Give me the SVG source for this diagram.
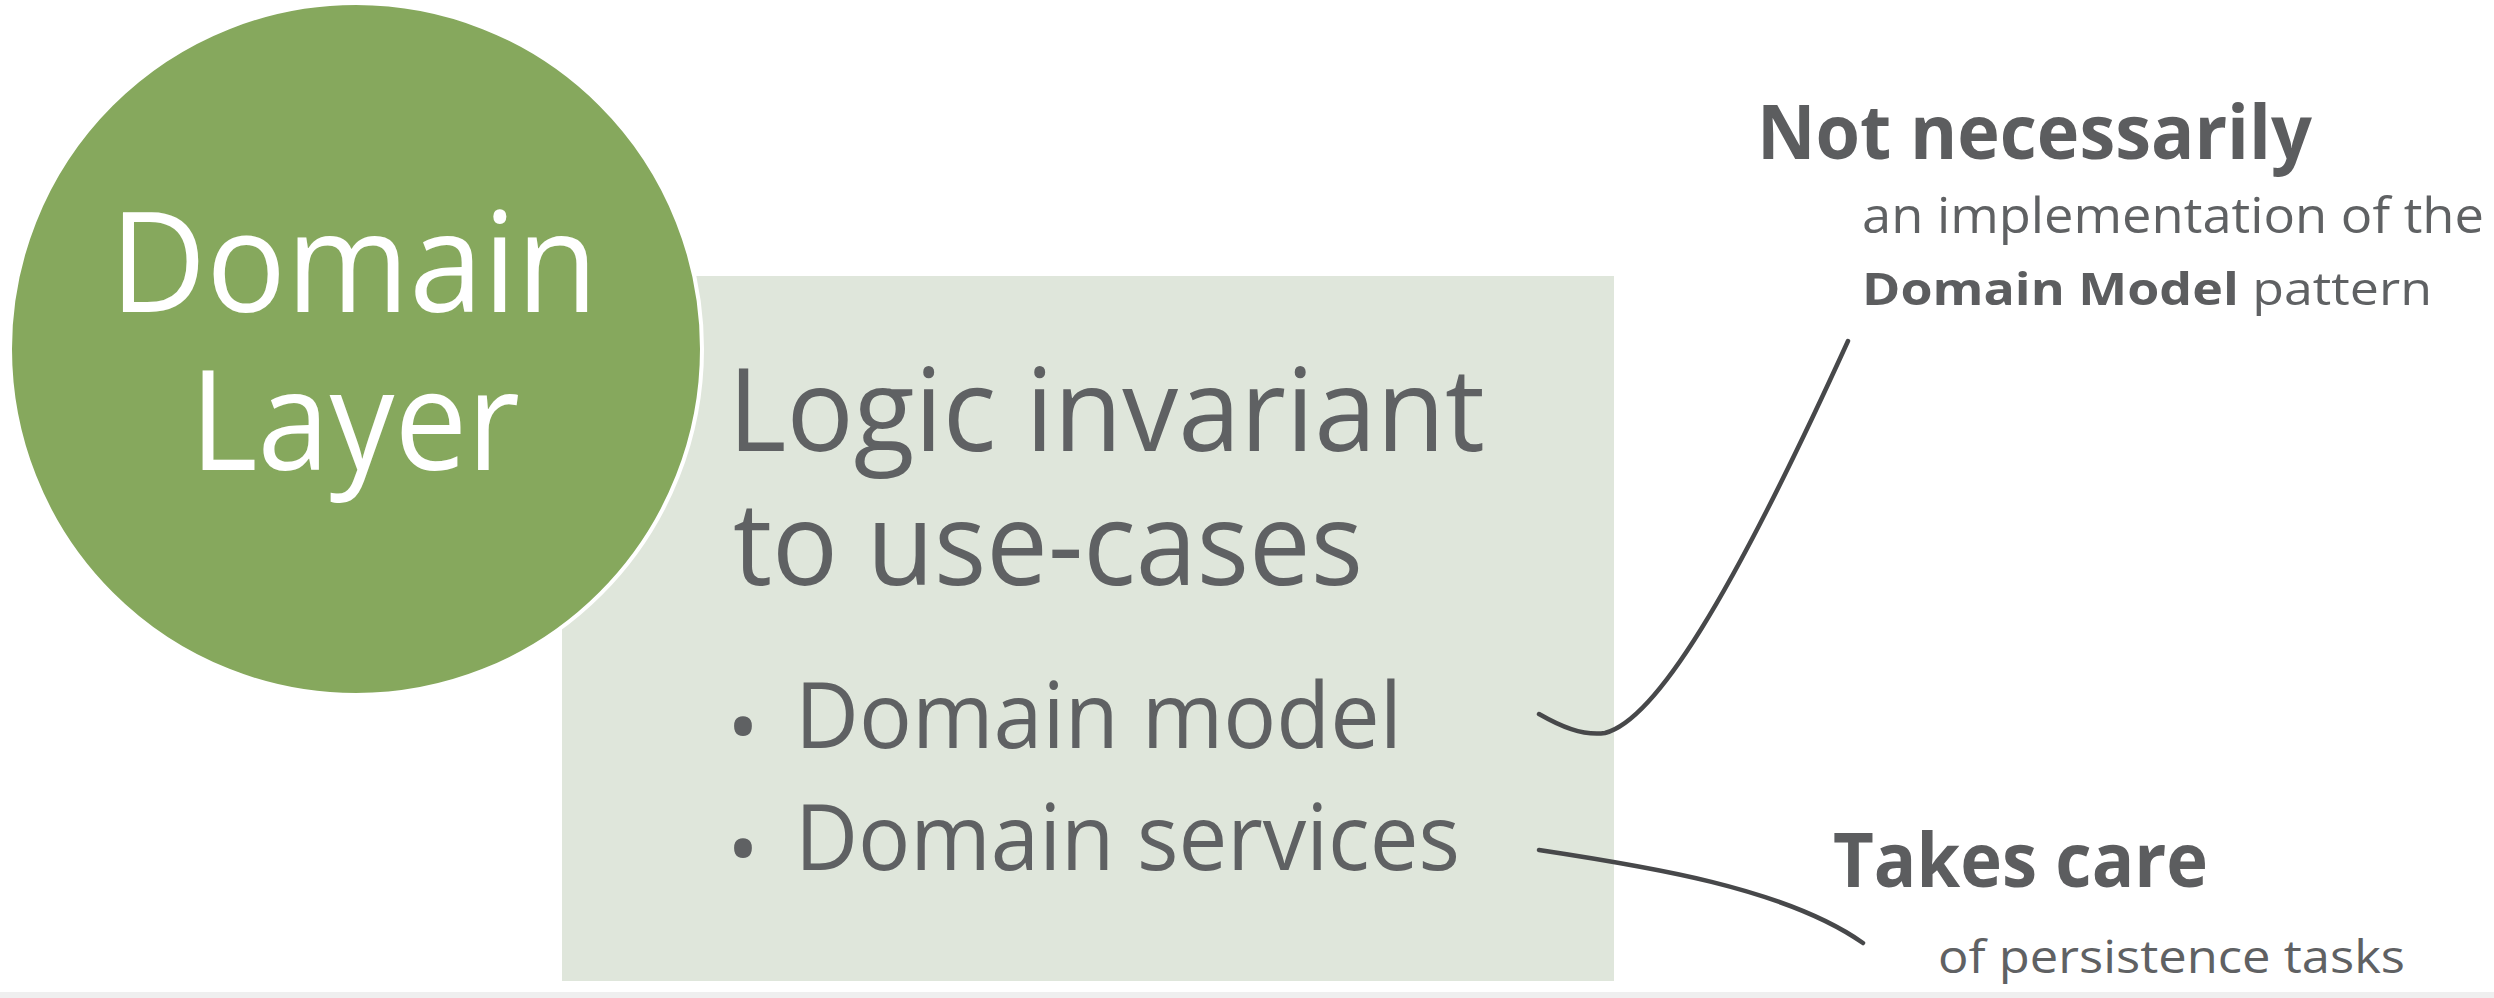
<svg xmlns="http://www.w3.org/2000/svg" width="2494" height="998" viewBox="0 0 2494 998">
<style>
  .t { font-family: "Open Sans", "Noto Sans", "Liberation Sans", sans-serif; fill: #5f6163; }
  .b { font-weight: bold; fill: #5c5d5f; }
  .w { font-family: "Open Sans", "Noto Sans", "Liberation Sans", sans-serif; fill: #ffffff; }
  .conn { fill: none; stroke: #47484a; stroke-width: 4.5; stroke-linecap: round; }
</style>
<rect x="0" y="0" width="2494" height="998" fill="#ffffff"/>
<rect x="0" y="992" width="2494" height="6" fill="#efefef"/>
<g id="logic-box">
  <rect x="562" y="276" width="1052" height="705" fill="#dfe6db"/>
  <text class="t" x="728" y="451" font-size="115" textLength="757" lengthAdjust="spacingAndGlyphs">Logic invariant</text>
  <text class="t" x="733" y="585" font-size="115" textLength="630" lengthAdjust="spacingAndGlyphs">to use-cases</text>
  <text class="t" x="743" y="757" font-size="85" text-anchor="middle">•</text>
  <text class="t" x="795" y="748" font-size="92" textLength="607" lengthAdjust="spacingAndGlyphs">Domain model</text>
  <text class="t" x="743" y="879" font-size="85" text-anchor="middle">•</text>
  <text class="t" x="795" y="870" font-size="92" textLength="665" lengthAdjust="spacingAndGlyphs">Domain services</text>
</g>
<g id="domain-layer">
  <circle cx="356" cy="349" r="346" fill="#86a85d" stroke="#ffffff" stroke-width="4"/>
  <text class="w" x="354" y="312" font-size="140" text-anchor="middle" textLength="488" lengthAdjust="spacingAndGlyphs">Domain</text>
  <text class="w" x="355" y="470" font-size="140" text-anchor="middle" textLength="330" lengthAdjust="spacingAndGlyphs">Layer</text>
</g>
<g id="connectors">
  <path class="conn" d="M1539,714 C1560,726 1582,736 1605,733 C1655,720 1730,600 1848,341"/>
  <path class="conn" d="M1539,850 C1645,866 1785,888 1863,943"/>
</g>
<g id="note-domain-model">
  <text class="t b" x="1757" y="159" font-size="76" textLength="555" lengthAdjust="spacingAndGlyphs">Not necessarily</text>
  <text class="t" x="1862" y="233" font-size="49" textLength="622" lengthAdjust="spacingAndGlyphs">an implementation of the</text>
  <text class="t" x="1862" y="305" font-size="45" textLength="570" lengthAdjust="spacingAndGlyphs"><tspan class="b">Domain Model</tspan> pattern</text>
</g>
<g id="note-persistence">
  <text class="t b" x="1833" y="887" font-size="76" textLength="375" lengthAdjust="spacingAndGlyphs">Takes care</text>
  <text class="t" x="1938" y="973" font-size="45" textLength="467" lengthAdjust="spacingAndGlyphs">of persistence tasks</text>
</g>
</svg>
